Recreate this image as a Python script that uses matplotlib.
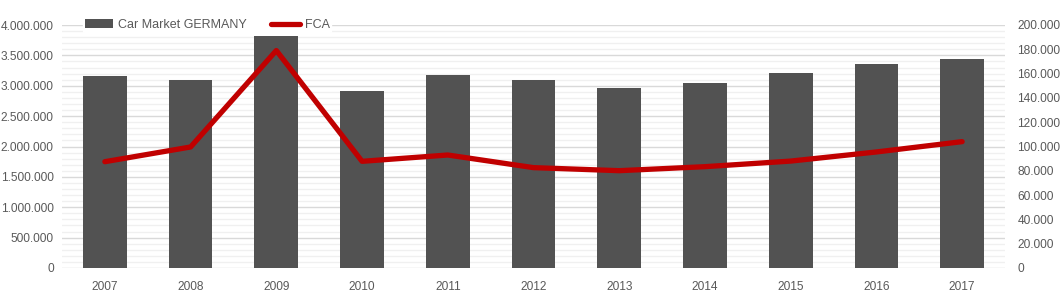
import matplotlib
matplotlib.use("Agg")
import matplotlib.pyplot as plt
from matplotlib.ticker import MultipleLocator, FuncFormatter

years = ["2007", "2008", "2009", "2010", "2011", "2012", "2013", "2014", "2015", "2016", "2017"]
car_market = [3160000, 3095000, 3815000, 2915000, 3175000, 3095000, 2960000, 3045000, 3210000, 3355000, 3440000]
fca = [87500, 99600, 179000, 87800, 93000, 82600, 80100, 83400, 88000, 95500, 104000]

plt.rcParams['font.family'] = ['Liberation Sans', 'DejaVu Sans']
txt = '#595959'

fig = plt.figure(figsize=(10.6, 3.08), dpi=100)
ax = fig.add_axes([62/1060, 1-268/308, (1005-62)/1060, (268-25)/308])
ax2 = ax.twinx()

x = list(range(len(years)))
bars = ax.bar(x, car_market, width=0.51, color='#525252', zorder=3, label='Car Market GERMANY')
line, = ax2.plot(x, fca, color='#C00000', lw=3.8, solid_capstyle='round', zorder=4, label='FCA')

ax.set_xlim(-0.5, len(years)-0.5)
ax.set_ylim(0, 4000000)
ax2.set_ylim(0, 200000)
ax.yaxis.set_major_locator(MultipleLocator(500000))
ax.yaxis.set_minor_locator(MultipleLocator(100000))
ax2.yaxis.set_major_locator(MultipleLocator(20000))

def fmt(v, p):
    return f"{int(round(v)):,}".replace(",", ".")
ax.yaxis.set_major_formatter(FuncFormatter(fmt))
ax2.yaxis.set_major_formatter(FuncFormatter(fmt))

ax.grid(which='major', axis='y', color='#D9D9D9', lw=1.0, zorder=0)
ax.grid(which='minor', axis='y', color='#F0F0F0', lw=1.0, zorder=0)
ax.set_axisbelow(True)

ax.set_xticks(x)
ax.set_xticklabels(years)
for a in (ax, ax2):
    for s in a.spines.values():
        s.set_visible(False)
    a.tick_params(which='both', length=0, colors=txt, labelsize=8.6)
ax.tick_params(axis='y', pad=6)
ax.tick_params(axis='x', pad=9)
ax2.tick_params(axis='y', pad=9)
ax2.patch.set_visible(False)

leg = fig.legend([bars, line], ['Car Market GERMANY', 'FCA'], loc='center',
                 bbox_to_anchor=(207/1060, 1-25/308), ncol=2, frameon=True,
                 fontsize=9, handlelength=2.3, handletextpad=0.35, columnspacing=2.0,
                 borderpad=0.15, facecolor='white', edgecolor='white', framealpha=1)
for t in leg.get_texts():
    t.set_color(txt)

fig.savefig('out.png', dpi=100)
